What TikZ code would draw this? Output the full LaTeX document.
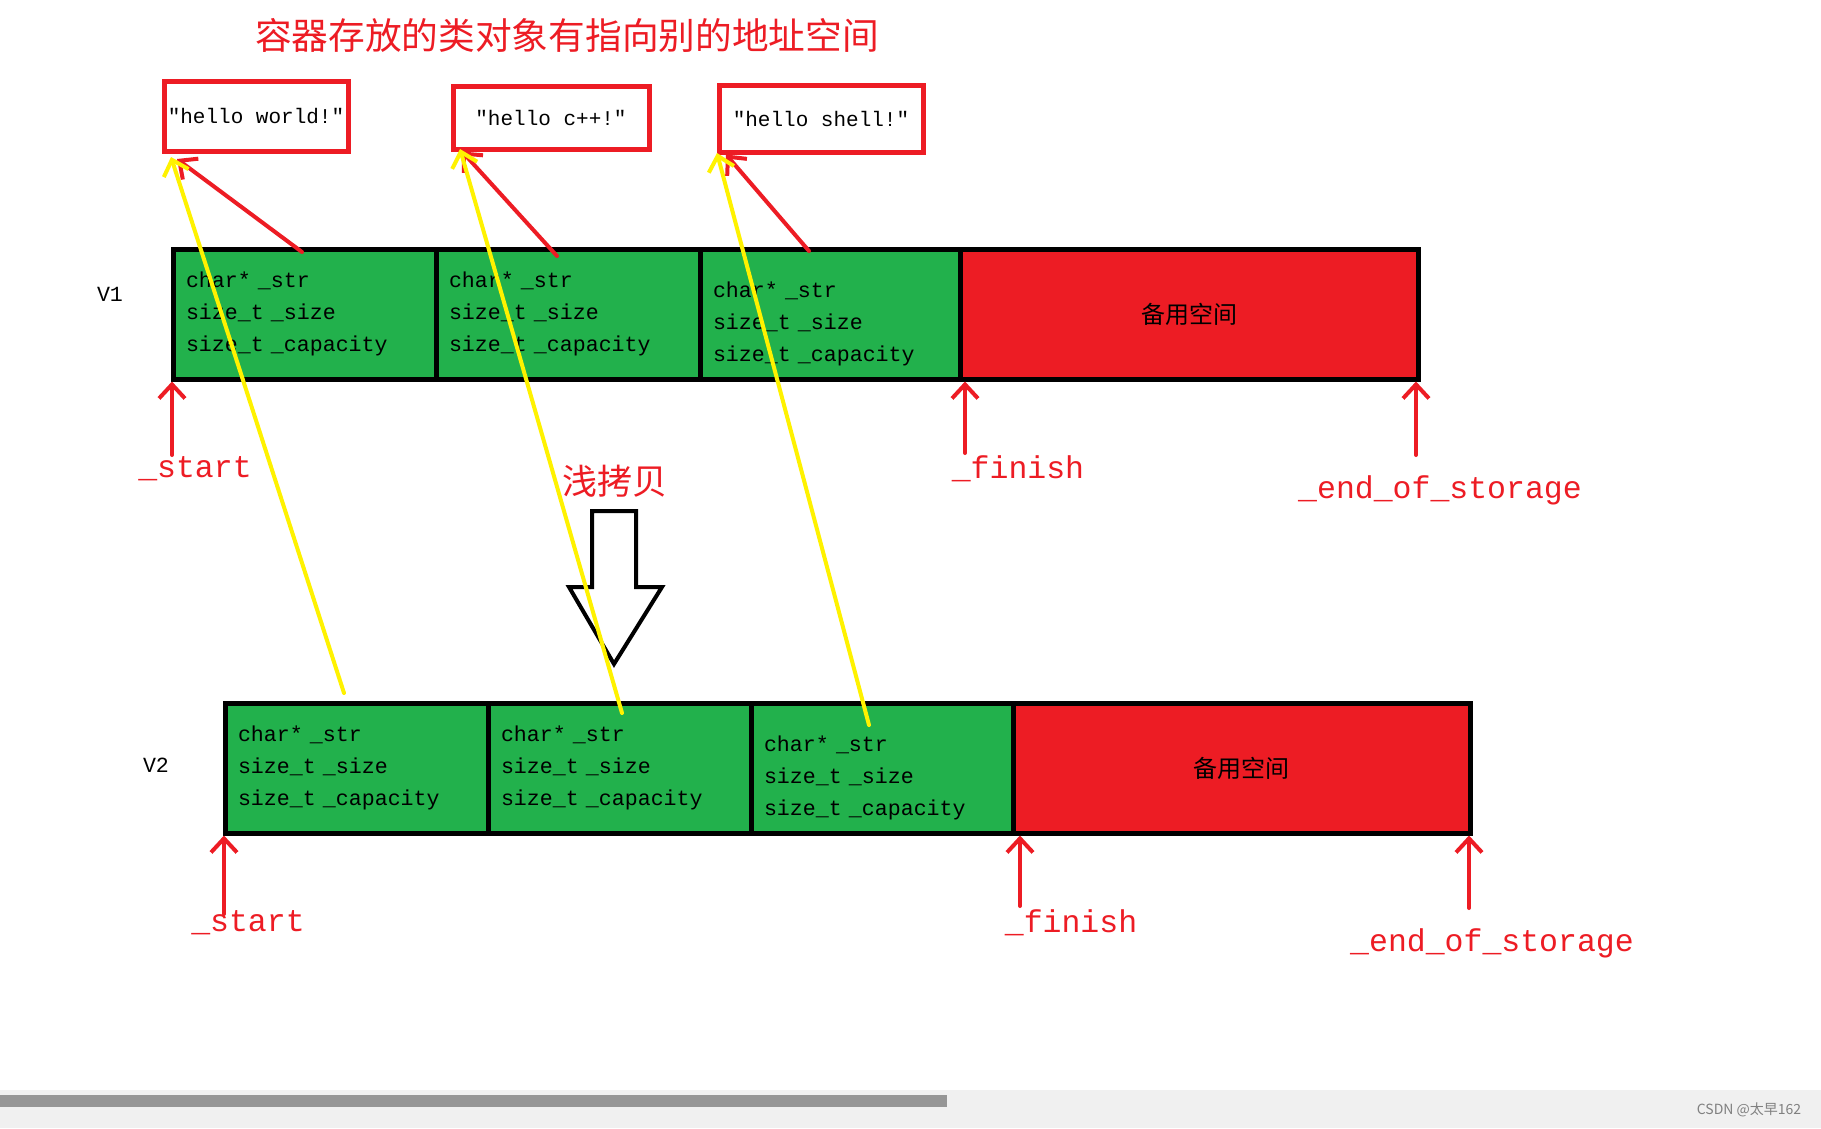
\documentclass[tikz,border=0pt]{standalone}
\usepackage{fontspec}
\setmonofont{Liberation Mono}
\newfontfamily\cjk{Noto Sans CJK SC}
\usetikzlibrary{arrows.meta}
\definecolor{cellgreen}{RGB}{34,177,76}
\definecolor{paintred}{RGB}{237,28,36}
\definecolor{paintyellow}{RGB}{255,242,0}
\definecolor{barbg}{RGB}{240,240,240}
\definecolor{bargray}{RGB}{150,150,150}
\newcommand{\lowline}{\rule{0pt}{35pt}}
\tikzset{
  cell/.style={draw=black, line width=5pt, fill=cellgreen, minimum height=130pt,
    inner xsep=13pt, inner ysep=0pt, align=left, text width=#1,
    font=\ttfamily\fontsize{21.6}{32}\selectfont},
  spare/.style={draw=black, line width=5pt, fill=paintred, minimum height=130pt,
    minimum width=#1, font=\cjk\fontsize{24}{28}\selectfont},
  strbox/.style={draw=paintred, line width=5pt, minimum width=#1, inner sep=0pt,
    font=\ttfamily\fontsize{21}{24}\selectfont},
  redptr/.style={draw=paintred, line width=4pt, line cap=round,
    -{Straight Barb[length=14pt,width=26pt]}},
  yellowptr/.style={draw=paintyellow, line width=4pt, line cap=round,
    -{Straight Barb[length=14pt,width=26pt]}},
  ptrlabel/.style={text=paintred, font=\ttfamily\fontsize{31.5}{34}\selectfont},
  vname/.style={font=\ttfamily\fontsize{21.6}{24}\selectfont}
}
\begin{document}
\begin{tikzpicture}[x=1pt,y=-1pt]
\useasboundingbox (0,0) rectangle (1821,1128);
\fill[white] (0,0) rectangle (1821,1128);
\fill[barbg] (0,1090) rectangle (1821,1128);
\fill[bargray] (0,1095) rectangle (947,1107);
\node[text=gray, font=\cjk\fontsize{14}{16}\selectfont] (mark) at (1749,1110) {CSDN @太早162};

\node[text=paintred, font=\cjk\fontsize{36.7}{40}\selectfont] (title) at (567,35) {容器存放的类对象有指向别的地址空间};

\node[strbox=184pt, minimum height=70pt] (w1) at (256,116) {"hello world!"};
\node[strbox=196pt, minimum height=63pt] (w2) at (551,117.5) {"hello c++!"};
\node[strbox=204pt, minimum height=67pt] (w3) at (821,118.5) {"hello shell!"};

\node[vname] (v1) at (110,294) {V1};
\node[cell=237pt] (a1) at (304.5,314) {char* \_str\\size\_t \_size\\size\_t \_capacity};
\node[cell=238pt] (a2) at (568,314) {char* \_str\\size\_t \_size\\size\_t \_capacity};
\node[cell=234pt] (a3) at (830,314) {\lowline char* \_str\\size\_t \_size\\size\_t \_capacity};
\node[spare=458pt] (a4) at (1189,314) {备用空间};

\node[vname] (v2) at (156,765) {V2};
\node[cell=237pt] (b1) at (356.5,768) {char* \_str\\size\_t \_size\\size\_t \_capacity};
\node[cell=237pt] (b2) at (619.5,768) {char* \_str\\size\_t \_size\\size\_t \_capacity};
\node[cell=236pt] (b3) at (882,768) {\lowline char* \_str\\size\_t \_size\\size\_t \_capacity};
\node[spare=457pt] (b4) at (1241.5,768) {备用空间};

\node[text=paintred, font=\cjk\fontsize{35}{38}\selectfont] (copy) at (615,481) {浅拷贝};
\draw[line width=4pt, fill=white, line join=miter]
  (592,511) -- (636,511) -- (636,587) -- (662,587) -- (614,664)
  -- (569,587) -- (592,587) -- cycle;

\draw[redptr] ([shift={(-2.5pt,-5.5pt)}]a1.north) -- ([shift={(15.5pt,-5.5pt)}]w1.south west);
\draw[redptr] ([shift={(-11pt,-9.5pt)}]a2.north) -- ([shift={(11.5pt,0pt)}]w2.south west);
\draw[redptr] ([shift={(-21pt,-4.5pt)}]a3.north) -- ([shift={(9.5pt,0pt)}]w3.south west);

\draw[yellowptr] ([shift={(-12.5pt,7.5pt)}]b1.north) -- ([shift={(9.5pt,-3.5pt)}]w1.south west);
\draw[yellowptr] ([shift={(2.5pt,-12.5pt)}]b2.north) -- ([shift={(9.5pt,2.5pt)}]w2.south west);
\draw[yellowptr] ([shift={(-13pt,-24.5pt)}]b3.north) -- ([shift={(0.5pt,1.5pt)}]w3.south west);

\node[ptrlabel] (start1) at (195,469) {\_start};
\node[ptrlabel] (finish1) at (1018,469) {\_finish};
\node[ptrlabel] (end1) at (1440,490) {\_end\_of\_storage};
\coordinate (ts1) at (172,455);
\coordinate (tf1) at (965,453);
\coordinate (te1) at (1416,455);
\draw[redptr] (ts1) -- (ts1 |- a1.south);
\draw[redptr] (tf1) -- (tf1 |- a4.south);
\draw[redptr] (te1) -- (te1 |- a4.south);

\node[ptrlabel] (start2) at (248,923) {\_start};
\node[ptrlabel] (finish2) at (1071,923) {\_finish};
\node[ptrlabel] (end2) at (1492,943) {\_end\_of\_storage};
\coordinate (ts2) at (224,914);
\coordinate (tf2) at (1020,906);
\coordinate (te2) at (1469,908);
\draw[redptr] (ts2) -- (ts2 |- b1.south);
\draw[redptr] (tf2) -- (tf2 |- b4.south);
\draw[redptr] (te2) -- (te2 |- b4.south);
\end{tikzpicture}
\end{document}
